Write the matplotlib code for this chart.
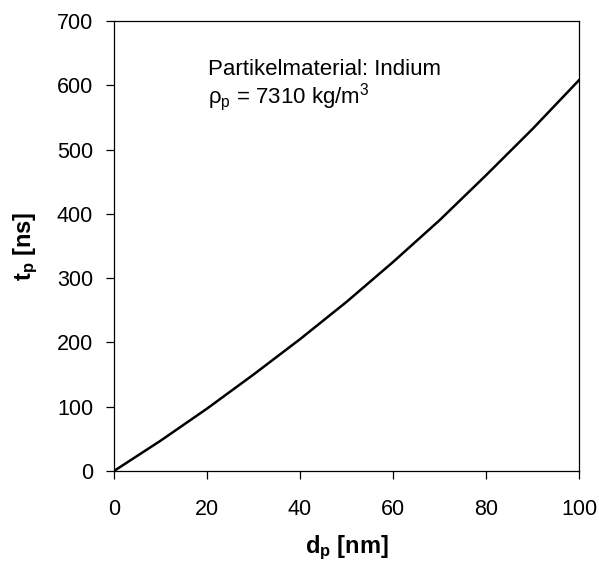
import matplotlib.pyplot as plt

plt.rcParams['font.family'] = ['Liberation Sans', 'DejaVu Sans']
plt.rcParams['mathtext.fontset'] = 'custom'
plt.rcParams['mathtext.rm'] = 'Liberation Sans'
plt.rcParams['mathtext.bf'] = 'Liberation Sans:bold'
plt.rcParams['mathtext.default'] = 'regular'

# particle diameter [nm] and relaxation time [ns]
d_p = [0, 10, 20, 30, 40, 50, 60, 70, 80, 90, 100]
t_p = [0, 47, 97, 150, 205, 263, 325, 390, 460, 532, 608]

fig = plt.figure(figsize=(5.99, 5.65), dpi=100)
ax = fig.add_axes([0.1903, 0.1664, 0.7763, 0.7964])

ax.plot(d_p, t_p, color='black', linewidth=1.8)

ax.set_xlim(0, 100)
ax.set_ylim(0, 700)
ax.set_xticks(range(0, 101, 20))
ax.set_yticks(range(0, 701, 100))
ax.tick_params(direction='out', length=6, width=0.9, labelsize=15.5)
ax.tick_params(axis='x', pad=14)
ax.tick_params(axis='y', pad=9)
for s in ax.spines.values():
    s.set_linewidth(0.9)

ax.set_xlabel(r'$\mathbf{d_p}$ [nm]', fontsize=17, fontweight='bold', labelpad=10)
ax.set_ylabel(r'$\mathbf{t_p}$ [ns]', fontsize=17, fontweight='bold', labelpad=12)

ax.text(20.2, 616, 'Partikelmaterial: Indium', fontsize=16, va='baseline')
ax.text(20.2, 572, r'$\rho_{p}$ = 7310 kg/m$^{3}$', fontsize=16, va='baseline')

fig.savefig('out.png', dpi=100)
